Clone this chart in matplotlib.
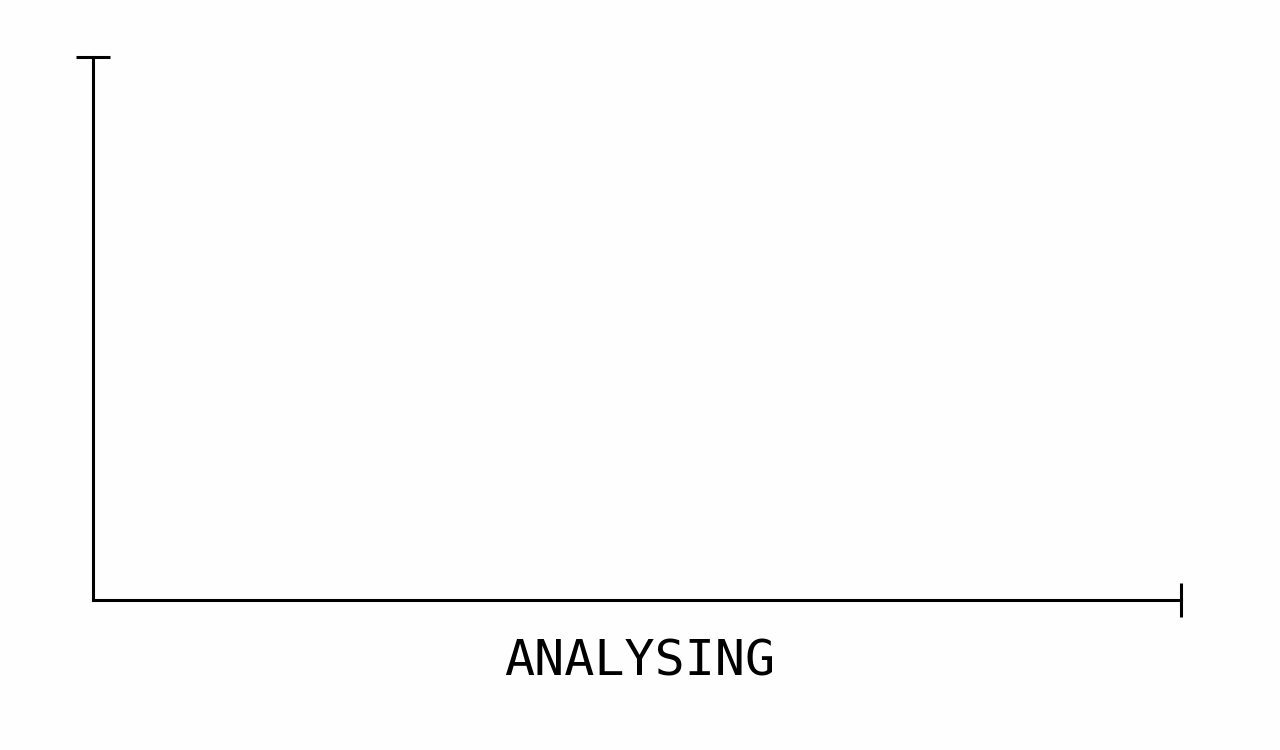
import matplotlib
matplotlib.use("Agg")
import matplotlib.pyplot as plt

# empty chart: no series yet, only the status label
x_values = []
y_values = []
status_label = "ANALYSING"

fig = plt.figure(figsize=(12.8, 7.5), dpi=100)
fig.patch.set_facecolor("#fdfefd")

ax = fig.add_axes([93 / 1280, 1 - 600 / 750, (1181 - 93) / 1280, (600 - 57) / 750])
ax.set_facecolor("#fdfefd")
ax.plot(x_values, y_values, color="black")
ax.set_xlim(0, 1)
ax.set_ylim(0, 1)

for side in ["top", "right"]:
    ax.spines[side].set_visible(False)
for side in ["left", "bottom"]:
    ax.spines[side].set_linewidth(2.2)
    ax.spines[side].set_color("black")
ax.set_xticks([])
ax.set_yticks([])

# end caps on the axes
ax.plot([0], [1], marker="_", markersize=25, markeredgewidth=2.2,
        color="black", transform=ax.transAxes, clip_on=False)
ax.plot([1], [0], marker="|", markersize=25, markeredgewidth=2.2,
        color="black", transform=ax.transAxes, clip_on=False)

fig.text(640 / 1280, 1 - 662 / 750, status_label, ha="center", va="center",
         fontsize=36, family="DejaVu Sans Mono", color="black")

fig.savefig("out.png", dpi=100, facecolor=fig.get_facecolor())
